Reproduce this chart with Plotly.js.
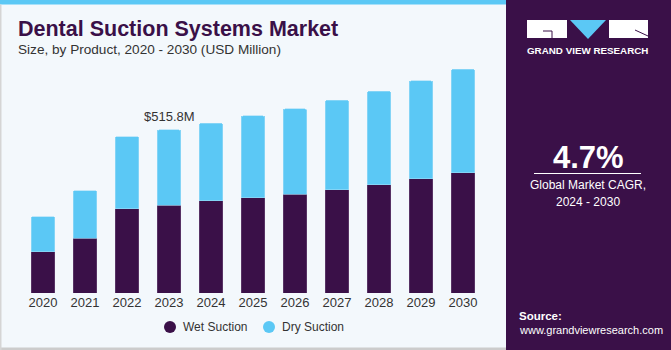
<!DOCTYPE html>
<html><head><meta charset="utf-8">
<script src="https://cdn.plot.ly/plotly-3.0.1.min.js"></script>
<style>html,body{margin:0;padding:0;background:#F3F8FC;}#c{width:671px;height:350px;}</style>
</head><body><div id="c"></div>
<script>
const years = ['2020','2021','2022','2023','2024','2025','2026','2027','2028','2029','2030'];
const wetSuction = [129.7,173.0,266.8,277.5,291.0,300.6,313.0,327.0,342.7,360.7,379.7];
const drySuction = [111.8,150.7,227.8,238.3,246.0,259.4,269.0,282.7,295.3,310.1,328.1];
const seriesNames = ['Wet Suction','Dry Suction'];
const seriesColors = ['#3A1048','#5BC8F5'];
const highlightYear = '2023';
const highlightLabel = '$515.8M';

const W=671,H=350,L=22,R=484,T=40,B=293;
const px=x=>(x-L)/(R-L);
const py=y=>1-(y-T)/(B-T);

const traces=[
 {type:'bar',x:years,y:wetSuction,name:seriesNames[0],marker:{color:seriesColors[0],line:{color:'#6a4a78',width:0.6}},showlegend:false,hoverinfo:'x+y'},
 {type:'bar',x:years,y:drySuction,name:seriesNames[1],marker:{color:seriesColors[1],line:{color:'#9fdcf7',width:0.6}},showlegend:false,hoverinfo:'x+y'}
];

const gradSvg = '<svg xmlns="http://www.w3.org/2000/svg" width="165" height="110" viewBox="0 0 165 110">'+
 '<defs><linearGradient id="g" x1="0" y1="0" x2="0" y2="1">'+
 '<stop offset="0" stop-color="#3A1048" stop-opacity="1"/>'+
 '<stop offset="0.35" stop-color="#3d2a66"/>'+
 '<stop offset="0.7" stop-color="#3f5c9c"/>'+
 '<stop offset="1" stop-color="#4f9fdc"/></linearGradient></defs>'+
 '<rect width="165" height="110" fill="url(#g)"/>'+
 '<g stroke="#9ab8e8" stroke-opacity="0.25" stroke-width="0.6" fill="none">'+
 '<path d="M0,40 Q80,34 165,40"/><path d="M0,52 Q80,45 165,52"/><path d="M0,64 Q80,57 165,64"/><path d="M0,78 Q80,70 165,78"/><path d="M0,93 Q80,85 165,93"/><path d="M0,108 Q80,100 165,108"/>'+
 '<path d="M10,35 L-10,110"/><path d="M30,35 L15,110"/><path d="M50,35 L40,110"/><path d="M70,35 L66,110"/><path d="M90,35 L92,110"/><path d="M110,35 L118,110"/><path d="M130,35 L144,110"/><path d="M150,35 L170,110"/>'+
 '</g></svg>';

const shapes=[
 {type:'rect',xref:'paper',yref:'paper',x0:px(0),x1:px(506),y0:py(0),y1:py(350),fillcolor:'#F3F8FC',line:{width:0},layer:'below'},
 {type:'rect',xref:'paper',yref:'paper',x0:px(0),x1:px(506),y0:py(0),y1:py(4.5),fillcolor:'#5BC8F5',line:{width:0},layer:'below'},
 {type:'rect',xref:'paper',yref:'paper',x0:px(0),x1:px(506),y0:py(347.5),y1:py(350),fillcolor:'#CCCCCC',line:{width:0},layer:'below'},
 {type:'rect',xref:'paper',yref:'paper',x0:px(0),x1:px(1.5),y0:py(4.5),y1:py(350),fillcolor:'#D5D5D5',line:{width:0},layer:'below'},
 {type:'rect',xref:'paper',yref:'paper',x0:px(506),x1:px(671),y0:py(0),y1:py(350),fillcolor:'#3A1048',line:{width:0},layer:'below'},
 {type:'line',xref:'paper',yref:'paper',x0:px(534),x1:px(641),y0:py(173.5),y1:py(173.5),line:{color:'#ffffff',width:1}},
 // logo
 {type:'rect',xref:'paper',yref:'paper',x0:px(527),x1:px(567),y0:py(20),y1:py(38),fillcolor:'#ffffff',line:{width:0}},
 {type:'path',xref:'paper',yref:'paper',path:`M${px(543)},${py(31)} L${px(552)},${py(31)} L${px(552)},${py(38)}`,line:{color:'#3A1048',width:1}},
 {type:'path',xref:'paper',yref:'paper',path:`M${px(570)},${py(20)} L${px(606)},${py(20)} L${px(588)},${py(39)} Z`,fillcolor:'#5BC8F5',line:{width:0}},
 {type:'rect',xref:'paper',yref:'paper',x0:px(609),x1:px(648),y0:py(20),y1:py(38),fillcolor:'#ffffff',line:{width:0}},
 {type:'line',xref:'paper',yref:'paper',x0:px(635),x1:px(648),y0:py(30),y1:py(36),line:{color:'#3A1048',width:1}},
 // legend markers
 {type:'circle',xref:'paper',yref:'paper',x0:px(164),x1:px(176),y0:py(321),y1:py(333),fillcolor:seriesColors[0],line:{width:0}},
 {type:'circle',xref:'paper',yref:'paper',x0:px(263),x1:px(275),y0:py(321),y1:py(333),fillcolor:seriesColors[1],line:{width:0}}
];

const F='"Liberation Sans", Arial, sans-serif';
const ann=(x,y,text,size,color,opts={})=>Object.assign({xref:'paper',yref:'paper',x:px(x),y:py(y),text,showarrow:false,font:{family:F,size,color},xanchor:'left',yanchor:'middle'},opts);

const hi = years.indexOf(highlightYear);
const annotations=[
 ann(16,29,'<b>Dental Suction Systems Market</b>',21.5,'#3A1048'),
 ann(16,49,'Size, by Product, 2020 - 2030 (USD Million)',13.6,'#333333'),
 {xref:'x',yref:'y',x:hi,y:wetSuction[hi]+drySuction[hi],text:highlightLabel,showarrow:false,xanchor:'center',yanchor:'bottom',yshift:4,font:{family:F,size:13,color:'#333333'}},
 ann(181,327,seriesNames[0],12,'#333333'),
 ann(280,327,seriesNames[1],12,'#333333'),
 ann(587.5,51,'<b>GRAND VIEW RESEARCH</b>',9.8,'#ffffff',{xanchor:'center'}),
 ann(588,157,'<b>4.7%</b>',31,'#ffffff',{xanchor:'center'}),
 ann(588,185,'Global Market CAGR,',12,'#ffffff',{xanchor:'center'}),
 ann(588,202,'2024 - 2030',12,'#ffffff',{xanchor:'center'}),
 ann(517,316,'<b>Source:</b>',11.5,'#ffffff'),
 ann(517,330,'www.grandviewresearch.com',11,'#ffffff')
];

const layout={
 width:W,height:H,margin:{l:L,r:W-R,t:T,b:H-B,pad:0},
 paper_bgcolor:'#F3F8FC',plot_bgcolor:'rgba(0,0,0,0)',
 barmode:'stack',bargap:0.43,barcornerradius:2,
 showlegend:false,
 xaxis:{type:'category',range:[-0.5,10.5],showgrid:false,zeroline:false,showline:false,ticks:'',tickfont:{family:F,size:13,color:'#333333'},fixedrange:true},
 yaxis:{range:[0,800],visible:false,showgrid:false,zeroline:false,fixedrange:true},
 shapes,annotations,
 images:[{source:'data:image/svg+xml;charset=utf-8,'+encodeURIComponent(gradSvg),xref:'paper',yref:'paper',x:px(506),y:py(240),sizex:px(671)-px(506),sizey:py(240)-py(350),sizing:'stretch',xanchor:'left',yanchor:'top',layer:'below'}]
};
Plotly.newPlot('c',traces,layout,{displayModeBar:false,staticPlot:true});
</script></body></html>
